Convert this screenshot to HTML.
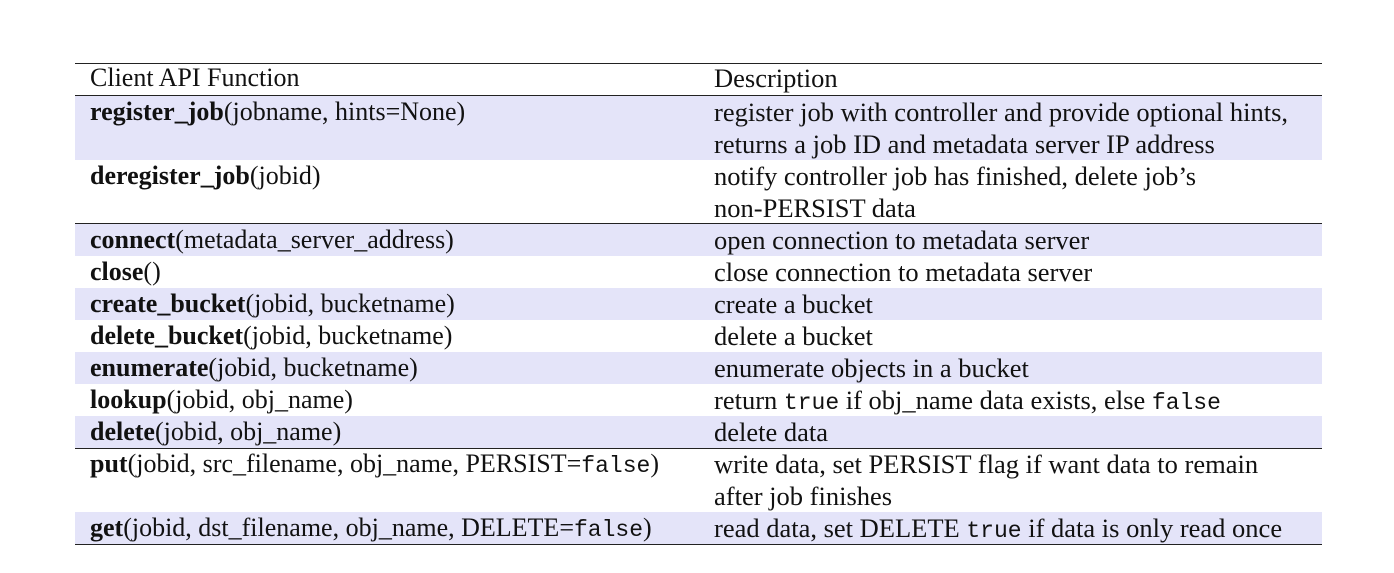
<!DOCTYPE html>
<html><head><meta charset="utf-8"><style>
body{margin:0;width:1394px;height:573px;background:#fff;position:relative;overflow:hidden;font-family:"Liberation Serif",serif;font-size:26px;color:#111}
.r{position:absolute;left:75px;width:1247px;height:32px}
.s{background:#e4e4f9}
.t{position:absolute;line-height:32px;white-space:nowrap}
.a{left:90px}.b{left:714px;font-size:26.5px}
.l{position:absolute;left:75px;width:1247px;height:1px;background:#222}
tt{font-family:"Liberation Mono",monospace;font-size:23px}
</style></head><body>
<div class="r s" style="top:96px;height:64px"></div>
<div class="r s" style="top:224px"></div>
<div class="r s" style="top:288px"></div>
<div class="r s" style="top:352px"></div>
<div class="r s" style="top:416px"></div>
<div class="r s" style="top:512px"></div>
<div class="l" style="top:63px"></div>
<div class="l" style="top:95px"></div>
<div class="l" style="top:223px"></div>
<div class="l" style="top:448px"></div>
<div class="l" style="top:544px"></div>

<div class="t a" style="top:62px">Client API Function</div>
<div class="t b" style="top:62px">Description</div>

<div class="t a" style="top:96px"><b>register_job</b>(jobname, hints=None)</div>
<div class="t b" style="top:96px">register job with controller and provide optional hints,</div>
<div class="t b" style="top:128px">returns a job ID and metadata server IP address</div>

<div class="t a" style="top:160px"><b>deregister_job</b>(jobid)</div>
<div class="t b" style="top:160px">notify controller job has finished, delete job’s</div>
<div class="t b" style="top:192px">non-PERSIST data</div>

<div class="t a" style="top:224px"><b>connect</b>(metadata_server_address)</div>
<div class="t b" style="top:224px">open connection to metadata server</div>
<div class="t a" style="top:256px"><b>close</b>()</div>
<div class="t b" style="top:256px">close connection to metadata server</div>
<div class="t a" style="top:288px"><b>create_bucket</b>(jobid, bucketname)</div>
<div class="t b" style="top:288px">create a bucket</div>
<div class="t a" style="top:320px"><b>delete_bucket</b>(jobid, bucketname)</div>
<div class="t b" style="top:320px">delete a bucket</div>
<div class="t a" style="top:352px"><b>enumerate</b>(jobid, bucketname)</div>
<div class="t b" style="top:352px">enumerate objects in a bucket</div>
<div class="t a" style="top:384px"><b>lookup</b>(jobid, obj_name)</div>
<div class="t b" style="top:384px">return <tt>true</tt> if obj_name data exists, else <tt>false</tt></div>
<div class="t a" style="top:416px"><b>delete</b>(jobid, obj_name)</div>
<div class="t b" style="top:416px">delete data</div>

<div class="t a" style="top:448px"><b>put</b>(jobid, src_filename, obj_name, PERSIST=<tt>false</tt>)</div>
<div class="t b" style="top:448px">write data, set PERSIST flag if want data to remain</div>
<div class="t b" style="top:480px">after job finishes</div>
<div class="t a" style="top:512px"><b>get</b>(jobid, dst_filename, obj_name, DELETE=<tt>false</tt>)</div>
<div class="t b" style="top:512px">read data, set DELETE <tt>true</tt> if data is only read once</div>
</body></html>
